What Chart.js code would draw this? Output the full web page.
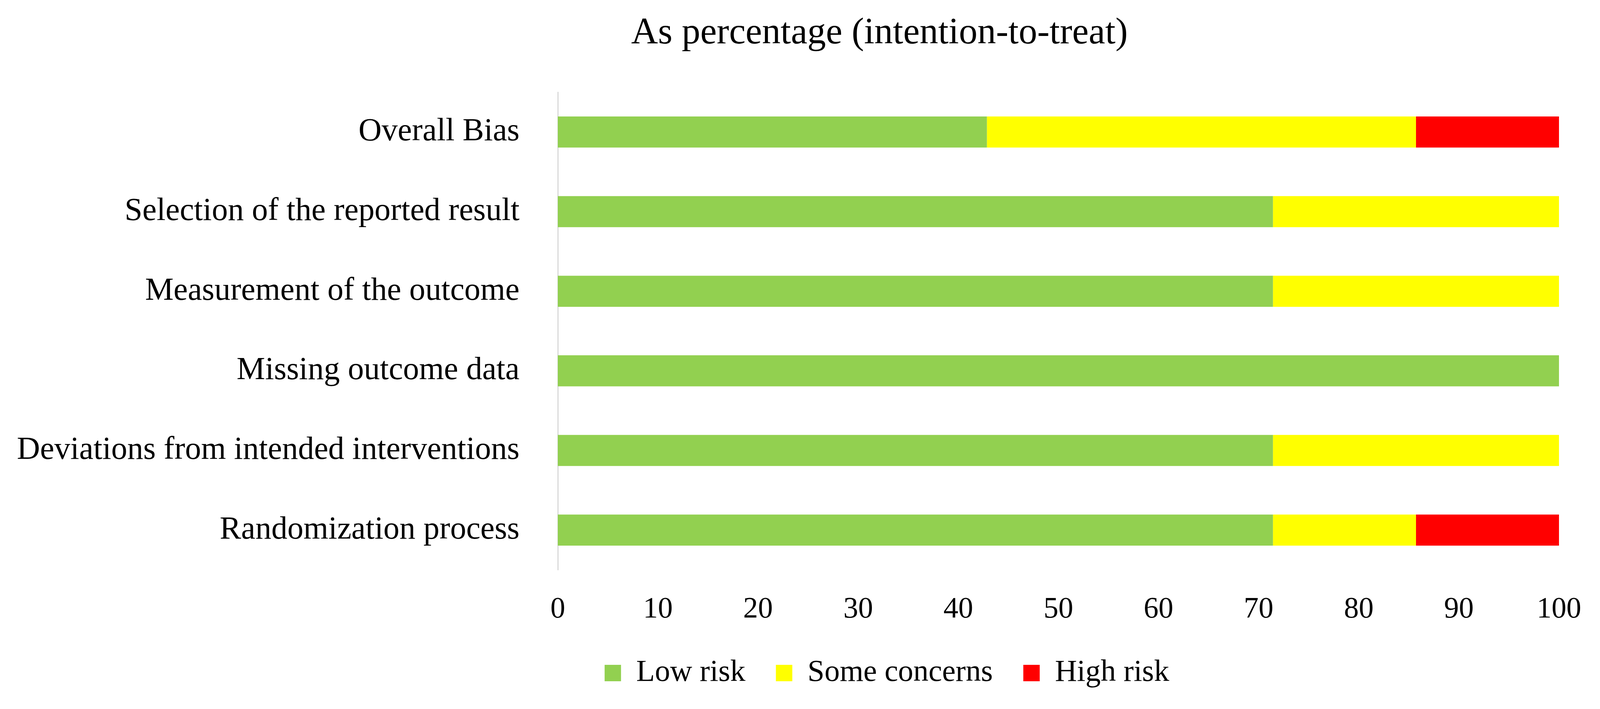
<!DOCTYPE html>
<html>
<head>
<meta charset="utf-8">
<script src="https://cdn.jsdelivr.net/npm/chart.js@4/dist/chart.umd.min.js"></script>
<style>
  html, body { margin: 0; padding: 0; background: #fff; }
  #wrap { width: 4106px; height: 1814px; }
</style>
</head>
<body>
<div id="wrap"><canvas id="riskChart" width="4106" height="1814"></canvas></div>
<script>
"use strict";

// domains, top to bottom
var domains = [
    'Overall Bias',
    'Selection of the reported result',
    'Measurement of the outcome',
    'Missing outcome data',
    'Deviations from intended interventions',
    'Randomization process'
];

// percent of studies per judgement (7 studies)
var lowRisk = [42.86, 71.43, 71.43, 100, 71.43, 71.43];
var someConcerns = [42.86, 28.57, 28.57, 0, 28.57, 14.29];
var highRisk = [14.29, 0, 0, 0, 0, 14.29];

var xTicks = [0, 10, 20, 30, 40, 50, 60, 70, 80, 90, 100];

var serif = "'Liberation Serif', 'DejaVu Serif', serif";

// title and legend sit a bit right of the canvas centre in the original
var shiftBoxes = {
    id: 'shiftBoxes',
    afterLayout: function (chart) {
        if (chart.titleBlock) {
            chart.titleBlock.left += 256;
            chart.titleBlock.right += 256;
        }
        if (chart.legend) {
            chart.legend.left += 275;
            chart.legend.right += 275;
        }
    }
};

var config = {
    type: 'bar',
    data: {
        labels: domains,
        datasets: [{
            label: 'Low risk',
            data: lowRisk,
            backgroundColor: '#92D050'
        }, {
            label: 'Some concerns',
            data: someConcerns,
            backgroundColor: '#FFFF00'
        }, {
            label: 'High risk',
            data: highRisk,
            backgroundColor: '#FF0000'
        }]
    },
    options: {
        indexAxis: 'y',
        responsive: false,
        animation: false,
        devicePixelRatio: 1,
        layout: {
            padding: { left: 0, right: 115, top: 0, bottom: 43 }
        },
        datasets: {
            bar: {
                categoryPercentage: 1,
                barPercentage: 0.39,
                borderWidth: 0
            }
        },
        scales: {
            x: {
                stacked: true,
                min: 0,
                max: 100,
                afterBuildTicks: function (scale) {
                    scale.ticks = xTicks.map(function (v) { return { value: v }; });
                },
                afterFit: function (scale) {
                    scale.height = 147;
                },
                grid: { display: false, drawTicks: false },
                border: { display: false },
                ticks: {
                    color: '#000',
                    padding: 56,
                    font: { family: serif, size: 76 }
                }
            },
            y: {
                stacked: true,
                afterFit: function (scale) {
                    scale.width = 1428;
                },
                grid: { display: false, drawTicks: false },
                border: { display: true, color: '#d9d9d9', width: 3 },
                ticks: {
                    color: '#000',
                    padding: 98,
                    font: { family: serif, size: 82 }
                }
            }
        },
        plugins: {
            title: {
                display: true,
                text: 'As percentage (intention-to-treat)',
                color: '#000',
                font: { family: serif, size: 95, weight: 'normal' },
                padding: { top: 29, bottom: 93 }
            },
            legend: {
                position: 'bottom',
                labels: {
                    color: '#000',
                    boxWidth: 42,
                    boxHeight: 42,
                    padding: 78,
                    font: { family: serif, size: 78 }
                }
            },
            tooltip: { enabled: false }
        }
    },
    plugins: [shiftBoxes]
};

var ctx = document.getElementById('riskChart').getContext('2d');
new Chart(ctx, config);
</script>
</body>
</html>
